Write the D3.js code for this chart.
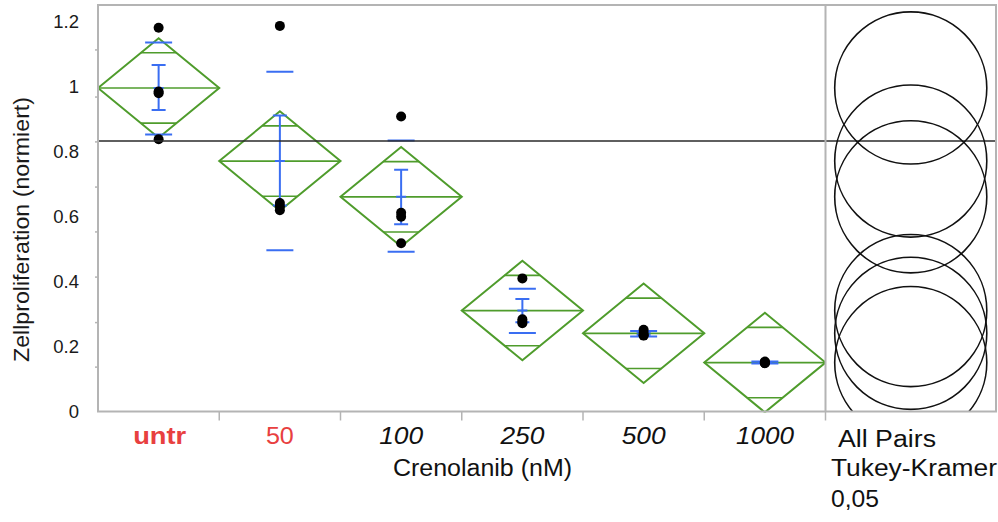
<!DOCTYPE html>
<html>
<head>
<meta charset="utf-8">
<script src="https://cdn.jsdelivr.net/npm/d3@7"></script>
<style>
  html, body { margin: 0; padding: 0; background: #fff; }
  svg { display: block; }
  text { font-family: "Liberation Sans", Arial, sans-serif; }
</style>
</head>
<body>
<svg id="chart" width="998" height="522"></svg>
<script>
// ---------------- data ----------------
const categories = ["untr", "50", "100", "250", "500", "1000"];
const groupMeans = [0.994, 0.769, 0.659, 0.309, 0.239, 0.149];
const ciHalf     = [0.153, 0.153, 0.153, 0.153, 0.153, 0.153];
const sdLow      = [0.851, 0.495, 0.490, 0.240, 0.229, 0.146];
const sdHigh     = [1.134, 1.044, 0.832, 0.376, 0.246, 0.152];
const seLow      = [0.926, 0.632, 0.575, 0.273, 0.235, 0.148];
const seHigh     = [1.065, 0.909, 0.742, 0.345, 0.243, 0.150];
const pointsUntr = [1.179, 0.983, 0.978, 0.836];
const points50   = [1.185, 0.640, 0.630, 0.618];
const points100  = [0.906, 0.610, 0.598, 0.516];
const points250  = [0.408, 0.282, 0.275, 0.270];
const points500  = [0.250, 0.240, 0.233, 0.232];
const points1000 = [0.152, 0.149, 0.148, 0.147];
const circleRadius = [0.234, 0.234, 0.234, 0.234, 0.234, 0.234];
const referenceLine = 0.831;
const yTickValues = [0, 0.2, 0.4, 0.6, 0.8, 1, 1.2];
const yTickLabels = ["0", "0.2", "0.4", "0.6", "0.8", "1", "1.2"];
const yMinorTicks = [0.135, 0.272, 0.412, 0.551, 0.689, 0.828, 0.966, 1.111];
const labelStyles = ["red-bold", "red", "italic", "italic", "italic", "italic"];
const xTitle = "Crenolanib (nM)";
const yTitle = "Zellproliferation (normiert)";
const panelTitle = "All Pairs";
const panelNote1 = "Tukey-Kramer";
const panelNote2 = "0,05";

const allPoints = [pointsUntr, points50, points100, points250, points500, points1000];

// ---------------- layout ----------------
const plotLeft = 98, plotRight = 825.5, plotTop = 5, plotBottom = 411.5, panelRight = 996;
const GREEN = "#4f9c2c", BLUE = "#3a6ef2", FRAME = "#b4b4b4", RED = "#e8403f";

const svg = d3.select("#chart");

const x = d3.scaleBand().domain(categories).range([plotLeft, plotRight]).padding(0);
const y = d3.scaleLinear().domain([0, 1.2]).range([411, 21]);

const bw = x.bandwidth();
const groups = categories.map((c, i) => ({
  cat: c, i,
  mean: groupMeans[i], ci: ciHalf[i],
  sdLo: sdLow[i], sdHi: sdHigh[i], seLo: seLow[i], seHi: seHigh[i],
  pts: allPoints[i], r: circleRadius[i]
}));

// clip paths
const defs = svg.append("defs");
defs.append("clipPath").attr("id", "plotClip").append("rect")
  .attr("x", plotLeft).attr("y", plotTop).attr("width", plotRight - plotLeft).attr("height", plotBottom - plotTop + 1);
defs.append("clipPath").attr("id", "panelClip").append("rect")
  .attr("x", plotRight).attr("y", plotTop).attr("width", panelRight - plotRight).attr("height", plotBottom - plotTop);

// ---------------- y axis ----------------
const yAxis = d3.axisLeft(y).tickValues(yTickValues).tickSize(0).tickPadding(0)
  .tickFormat((d, i) => yTickLabels[i]);
const yg = svg.append("g").attr("transform", `translate(79,0)`).call(yAxis);
yg.select(".domain").remove();
yg.selectAll("text").attr("font-size", 18.5).attr("fill", "#1a1a1a")
  .attr("font-family", "Liberation Sans, Arial, sans-serif").attr("dy", "0.36em").attr("x", 0);

// minor ticks on frame
svg.append("g").selectAll("line").data(yMinorTicks).join("line")
  .attr("x1", plotLeft - 3).attr("x2", plotLeft)
  .attr("y1", d => y(d)).attr("y2", d => y(d))
  .attr("stroke", FRAME).attr("stroke-width", 1.5);

// y title
svg.append("text")
  .attr("transform", `translate(29,${(97 + 362) / 2}) rotate(-90)`)
  .attr("text-anchor", "middle")
  .attr("font-size", 21.5)
  .attr("fill", "#1a1a1a")
  .attr("textLength", 265).attr("lengthAdjust", "spacingAndGlyphs")
  .text(yTitle);

// ---------------- x axis ticks and labels ----------------
const xTickPos = categories.slice(1).map(c => x(c)).concat([plotRight]);
svg.append("g").selectAll("line").data(xTickPos).join("line")
  .attr("x1", d => d).attr("x2", d => d)
  .attr("y1", plotBottom).attr("y2", plotBottom + 9)
  .attr("stroke", FRAME).attr("stroke-width", 1.5);

const labelWidths = { "untr": 53, "50": 28, "100": 44, "250": 44, "500": 44, "1000": 58 };
svg.append("g").selectAll("text").data(groups).join("text")
  .attr("x", d => x(d.cat) + bw / 2 + (d.i === 0 ? 1 : 0))
  .attr("y", 444)
  .attr("text-anchor", "middle")
  .attr("font-size", 24)
  .attr("font-family", d => labelStyles[d.i] === "italic" ? "DejaVu Sans, sans-serif" : "Liberation Sans, Arial, sans-serif")
  .attr("font-style", d => labelStyles[d.i] === "italic" ? "italic" : "normal")
  .attr("font-weight", d => labelStyles[d.i] === "red-bold" ? "bold" : "normal")
  .attr("fill", d => labelStyles[d.i].startsWith("red") ? RED : "#111")
  .attr("textLength", d => labelWidths[d.cat]).attr("lengthAdjust", "spacingAndGlyphs")
  .text(d => d.cat);

svg.append("text")
  .attr("x", (393 + 572) / 2).attr("y", 476)
  .attr("text-anchor", "middle").attr("font-size", 23).attr("fill", "#111")
  .attr("textLength", 179).attr("lengthAdjust", "spacingAndGlyphs")
  .text(xTitle);

svg.append("text").attr("x", 838).attr("y", 447).attr("font-size", 23).attr("fill", "#111")
  .attr("textLength", 98).attr("lengthAdjust", "spacingAndGlyphs").text(panelTitle);
svg.append("text").attr("x", 831).attr("y", 476).attr("font-size", 23).attr("fill", "#111")
  .attr("textLength", 166).attr("lengthAdjust", "spacingAndGlyphs").text(panelNote1);
svg.append("text").attr("x", 831).attr("y", 507).attr("font-size", 23).attr("fill", "#111")
  .attr("textLength", 48).attr("lengthAdjust", "spacingAndGlyphs").text(panelNote2);

// ---------------- plot content ----------------
const plot = svg.append("g").attr("clip-path", "url(#plotClip)");

// diamonds
const dg = plot.append("g").selectAll("g").data(groups).join("g");
dg.append("polygon")
  .attr("points", d => {
    const x0 = x(d.cat), x1 = x0 + bw, xc = x0 + bw / 2;
    return [[x0, y(d.mean)], [xc, y(d.mean + d.ci)], [x1, y(d.mean)], [xc, y(d.mean - d.ci)]].map(p => p.join(",")).join(" ");
  })
  .attr("fill", "none").attr("stroke", GREEN).attr("stroke-width", 2);
dg.append("line")
  .attr("x1", d => x(d.cat)).attr("x2", d => x(d.cat) + bw)
  .attr("y1", d => y(d.mean)).attr("y2", d => y(d.mean))
  .attr("stroke", GREEN).attr("stroke-width", 1.6);
[1, -1].forEach(s => {
  dg.append("line")
    .attr("x1", d => x(d.cat) + bw / 2 - (1 - Math.SQRT1_2) * bw / 2)
    .attr("x2", d => x(d.cat) + bw / 2 + (1 - Math.SQRT1_2) * bw / 2)
    .attr("y1", d => y(d.mean + s * d.ci * Math.SQRT1_2))
    .attr("y2", d => y(d.mean + s * d.ci * Math.SQRT1_2))
    .attr("stroke", GREEN).attr("stroke-width", 1.6);
});

// blue std dev lines
const bg = plot.append("g").selectAll("g").data(groups).join("g");
["sdLo", "sdHi"].forEach(k => {
  bg.append("line")
    .attr("x1", d => x(d.cat) + bw / 2 - 13.5).attr("x2", d => x(d.cat) + bw / 2 + 13.5)
    .attr("y1", d => y(d[k])).attr("y2", d => y(d[k]))
    .attr("stroke", BLUE).attr("stroke-width", 2);
});
// blue mean error bars
bg.append("line")
  .attr("x1", d => x(d.cat) + bw / 2).attr("x2", d => x(d.cat) + bw / 2)
  .attr("y1", d => y(d.seLo)).attr("y2", d => y(d.seHi))
  .attr("stroke", BLUE).attr("stroke-width", 2);
["seLo", "seHi", "mean"].forEach(k => {
  bg.append("line")
    .attr("x1", d => x(d.cat) + bw / 2 - (k === "mean" ? 5 : 7)).attr("x2", d => x(d.cat) + bw / 2 + (k === "mean" ? 5 : 7))
    .attr("y1", d => y(d[k])).attr("y2", d => y(d[k]))
    .attr("stroke", BLUE).attr("stroke-width", 2);
});

// reference line
svg.append("line")
  .attr("x1", plotLeft).attr("x2", panelRight)
  .attr("y1", y(referenceLine)).attr("y2", y(referenceLine))
  .attr("stroke", "#2a2a2a").attr("stroke-width", 1.6);

// points
plot.append("g").selectAll("g").data(groups).join("g")
  .selectAll("circle").data(d => d.pts.map(v => ({ v, cat: d.cat }))).join("circle")
  .attr("cx", d => x(d.cat) + bw / 2).attr("cy", d => y(d.v)).attr("r", 5)
  .attr("fill", "#000");

// ---------------- comparison circles ----------------
const cx = (plotRight + panelRight) / 2;
const pxPerUnit = y(0) - y(1);
svg.append("g").attr("clip-path", "url(#panelClip)")
  .selectAll("circle").data(groups).join("circle")
  .attr("cx", cx).attr("cy", d => y(d.mean)).attr("r", d => d.r * pxPerUnit)
  .attr("fill", "none").attr("stroke", "#111").attr("stroke-width", 1.6);

// ---------------- frame ----------------
const frame = svg.append("g").attr("fill", "none").attr("stroke", FRAME).attr("stroke-width", 2);
frame.append("rect").attr("x", plotLeft).attr("y", plotTop).attr("width", panelRight - plotLeft).attr("height", plotBottom - plotTop);
frame.append("line").attr("x1", plotRight).attr("x2", plotRight).attr("y1", plotTop).attr("y2", plotBottom);
</script>
</body>
</html>
